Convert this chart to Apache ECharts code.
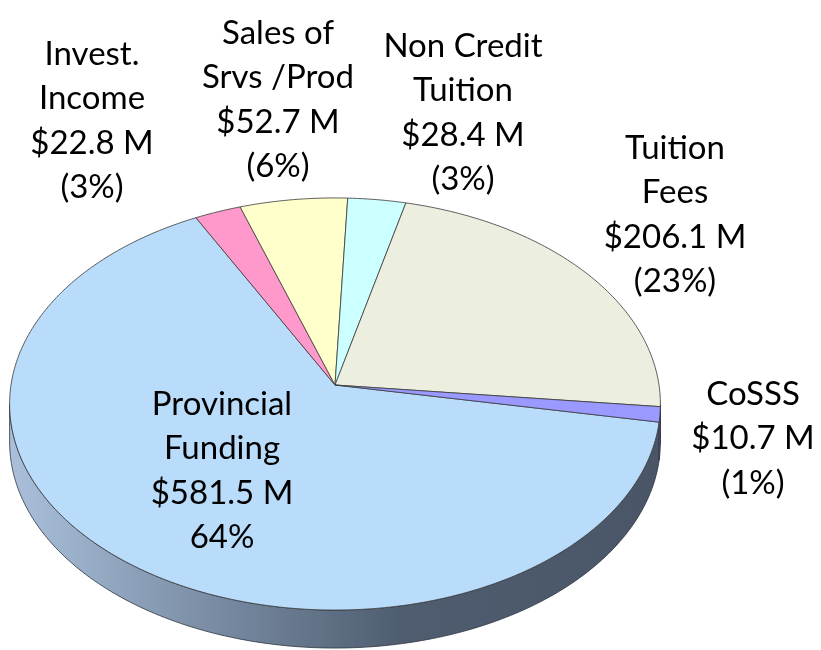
<!DOCTYPE html>
<html>
<head>
<meta charset="utf-8">
<script src="https://cdn.jsdelivr.net/npm/echarts@6/dist/echarts.min.js"></script>
<style>
  html, body { margin: 0; padding: 0; background: #fff; }
  #chart { width: 821px; height: 650px; }
</style>
</head>
<body>
<div id="chart"></div>
<script>
// data, clockwise from the right edge
var categories = ['Provincial Funding', 'Invest. Income', 'Sales of Srvs /Prod', 'Non Credit Tuition', 'Tuition Fees', 'CoSSS'];
var nameLines = [['Provincial', 'Funding'], ['Invest.', 'Income'], ['Sales of', 'Srvs /Prod'], ['Non Credit', 'Tuition'], ['Tuition', 'Fees'], ['CoSSS']];
var values = [581.5, 22.8, 52.7, 28.4, 206.1, 10.7];

// look
var topColors = ['#b9dcfb', '#ff99cc', '#ffffcc', '#ccffff', '#eceedf', '#9999ff'];
var sideColors = [null, '#b3668f', '#b3b38f', '#8fb3b3', '#8e9080', '#5c5c99'];
// label block: centre x, centre y of first line
var labelPos = [[222, 404], [92, 54], [278, 33], [463, 46], [675, 148], [753, 394]];
var lineH = 44.5;

// pie geometry (tilted disc with a bit of perspective)
var cx = 335, cy = 385, ax = 324, by = 204.3, persp = 0.0922, depth = 38;
var startAngle = -10.3;

var total = values.reduce(function (a, b) { return a + b; }, 0);
var angles = [];
var acc = startAngle;
values.forEach(function (v) {
    var span = v / total * 360;
    angles.push([acc, acc - span]);   // clockwise on screen = decreasing angle
    acc -= span;
});

function proj(deg, r, dy) {
    var a = deg * Math.PI / 180;
    var u = r * Math.cos(a), v = r * Math.sin(a);
    var d = 1 + persp * v;
    return [cx + ax * u / d, cy - by * v / d + (dy || 0)];
}

function arc(from, to, dy) {
    var pts = [];
    var n = Math.max(2, Math.ceil(Math.abs(to - from)));
    for (var i = 0; i <= n; i++) {
        pts.push(proj(from + (to - from) * i / n, 1, dy));
    }
    return pts;
}

// front (visible) part of the rim
var edge = Math.asin(persp) * 180 / Math.PI;
var frontA = -180 + edge, frontB = -edge;

function frontPart(s, e) {
    // s > e ; returns [hi, lo] ranges overlapping the front
    var out = [];
    [-360, 0, 360].forEach(function (shift) {
        var hi = Math.min(s + shift, frontB), lo = Math.max(e + shift, frontA);
        if (hi > lo) out.push([hi, lo]);
    });
    return out;
}

var sideGradient = {
    type: 'linear', x: cx - ax, y: 0, x2: cx + ax, y2: 0, global: true,
    colorStops: [
        { offset: 0, color: '#aac0da' },
        { offset: 0.3, color: '#7b8ea6' },
        { offset: 0.6, color: '#4f5d70' },
        { offset: 1, color: '#4a5668' }
    ]
};

var font = 'Lato, "Open Sans", sans-serif';

function renderItem(params, api) {
    var i = params.dataIndex;
    var s = angles[i][0], e = angles[i][1];
    var children = [];

    frontPart(s, e).forEach(function (r) {
        var pts = arc(r[0], r[1], 0).concat(arc(r[1], r[0], depth));
        children.push({
            type: 'polygon',
            shape: { points: pts },
            style: { fill: i === 0 ? sideGradient : sideColors[i], stroke: '#2e3540', lineWidth: 0.8 }
        });
    });

    var top = [proj(0, 0)].concat(arc(s, e, 0));
    children.push({
        type: 'polygon',
        shape: { points: top },
        style: { fill: topColors[i], stroke: '#3a3a3a', lineWidth: 0.8 }
    });

    var pct = Math.round(api.value(0) / total * 100) + '%';
    var lines = nameLines[i].concat(['$' + api.value(0).toFixed(1) + ' M', i === 0 ? pct : '(' + pct + ')']);
    lines.forEach(function (t, k) {
        children.push({
            type: 'text',
            z2: 10,
            style: {
                text: t,
                x: labelPos[i][0],
                y: labelPos[i][1] + k * lineH,
                fill: '#000',
                font: '33px ' + font,
                textAlign: 'center',
                textVerticalAlign: 'middle'
            }
        });
    });

    return { type: 'group', children: children };
}

var chart = echarts.init(document.getElementById('chart'));
chart.setOption({
    animation: false,
    series: [{
        type: 'custom',
        coordinateSystem: 'none',
        renderItem: renderItem,
        data: values.map(function (v, i) { return { name: categories[i], value: v }; })
    }]
});
</script>
</body>
</html>
